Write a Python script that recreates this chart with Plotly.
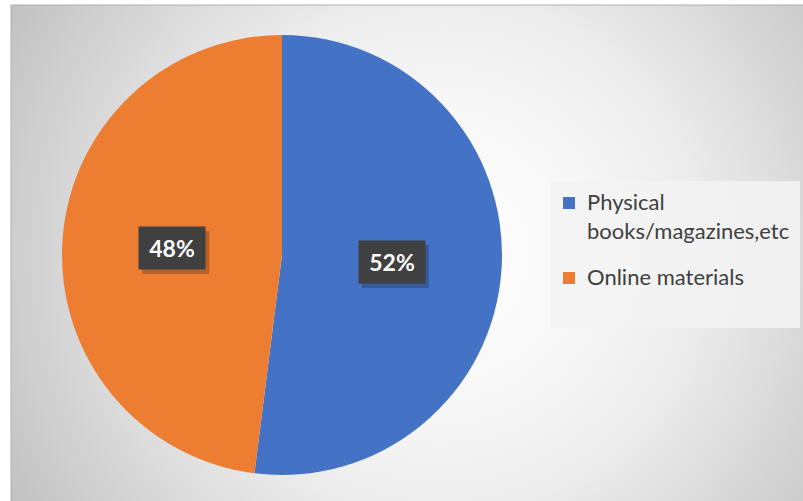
import math
import base64
import plotly.graph_objects as go

# ---- data ----
labels = ["Physical<br>books/magazines,etc", "Online materials"]
values = [52, 48]
colors = ["#4472C4", "#ED7D31"]

W, H = 803, 501

# pie geometry (pixels)
cx, cy, R = 282, 255, 220
dom_x = [(cx - R) / W, (cx + R) / W]
dom_y = [(H - (cy + R)) / H, (H - (cy - R)) / H]

fig = go.Figure()

fig.add_trace(go.Pie(
    labels=labels, values=values,
    marker=dict(colors=colors, line=dict(width=0)),
    sort=False, direction="clockwise", rotation=0,
    textinfo="none", hoverinfo="label+percent",
    domain=dict(x=dom_x, y=dom_y),
    showlegend=False,
))

# background gradient (chart area) as svg image
BW, BH = W - 11, H - 5
svg = f'''<svg xmlns="http://www.w3.org/2000/svg" width="{BW}" height="{BH}">
<defs><radialGradient id="g" gradientUnits="userSpaceOnUse" cx="430" cy="250" r="520">
<stop offset="0" stop-color="#ffffff"/>
<stop offset="0.3" stop-color="#f7f7f7"/>
<stop offset="0.5" stop-color="#ececec"/>
<stop offset="0.8" stop-color="#d0d0d0"/>
<stop offset="1" stop-color="#bdbdbd"/>
</radialGradient></defs>
<rect width="100%" height="100%" fill="url(#g)"/>
</svg>'''
src = "data:image/svg+xml;base64," + base64.b64encode(svg.encode()).decode()

fig.add_layout_image(dict(
    source=src, xref="paper", yref="paper",
    x=11 / W, y=(H - 5) / H, sizex=BW / W, sizey=BH / H,
    xanchor="left", yanchor="top", sizing="stretch", layer="below",
))

def px2x(p):
    return p / W

def px2y(p):
    return (H - p) / H

shapes = [
    dict(type="line", xref="paper", yref="paper", x0=px2x(11), x1=px2x(11), y0=0, y1=px2y(5),
         line=dict(color="#b0b0b0", width=1)),
    dict(type="line", xref="paper", yref="paper", x0=px2x(11), x1=1, y0=px2y(5), y1=px2y(5),
         line=dict(color="#b0b0b0", width=1)),
    # legend box
    dict(type="rect", xref="paper", yref="paper", x0=px2x(551), x1=px2x(800),
         y0=px2y(328), y1=px2y(181),
         fillcolor="rgba(243,243,243,0.85)", line=dict(width=0), layer="below"),
]

annotations = []

# legend (manual, to match entry spacing)
legend_rows = [203, 278]   # y centre of first text line of each entry (px)
for lab, col, ry in zip(labels, colors, legend_rows):
    shapes.append(dict(type="rect", xref="paper", yref="paper",
                       x0=px2x(563), x1=px2x(575), y0=px2y(ry + 6), y1=px2y(ry - 6),
                       fillcolor=col, line=dict(width=0)))
    annotations.append(dict(
        x=px2x(585), y=px2y(ry - 17), xref="paper", yref="paper",
        xanchor="left", yanchor="top", align="left", showarrow=False,
        text=lab, font=dict(family="Lato, Open Sans, sans-serif", size=22, color="#404040"),
    ))

# data labels placed at mid-angle of each slice
BOXW, BOXH = 66, 42
total = sum(values)
start = 0.0
for v in values:
    mid = (start + v / 2) / total * 2 * math.pi
    start += v
    px = cx + 0.5 * R * math.sin(mid)
    py = cy - 0.5 * R * math.cos(mid)
    # soft shadow behind the label box
    shapes.append(dict(type="rect", xref="paper", yref="paper", layer="above",
                       x0=px2x(px - BOXW / 2 + 3), x1=px2x(px + BOXW / 2 + 4),
                       y0=px2y(py + BOXH / 2 + 5), y1=px2y(py - BOXH / 2 + 4),
                       fillcolor="rgba(0,0,0,0.22)", line=dict(width=0)))
    annotations.append(dict(
        x=px2x(px), y=px2y(py), xref="paper", yref="paper",
        xanchor="center", yanchor="middle",
        text=f"<b>{round(v / total * 100)}%</b>", showarrow=False,
        font=dict(family="Lato, Open Sans, sans-serif", size=23, color="white"),
        bgcolor="#404040", width=BOXW - 2, height=BOXH - 2, align="center", valign="middle",
    ))

fig.update_layout(
    width=W, height=H,
    margin=dict(l=0, r=0, t=0, b=0),
    paper_bgcolor="white",
    shapes=shapes,
    annotations=annotations,
    showlegend=False,
)

fig.write_html("out.html", config={"displayModeBar": False},
               post_script="document.body.style.margin='0';")
